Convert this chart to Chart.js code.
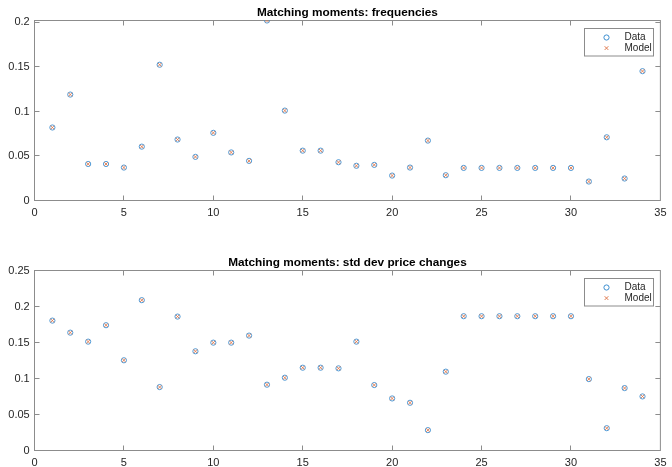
<!DOCTYPE html>
<html>
<head>
<meta charset="utf-8">
<script src="https://cdn.jsdelivr.net/npm/chart.js@4/dist/chart.umd.min.js"></script>
<style>
  html, body { margin: 0; padding: 0; background: #ffffff; }
  #wrap { position: relative; width: 672px; height: 467px; }
  .panel { position: absolute; left: 0; width: 672px; height: 217px; }
</style>
</head>
<body>
<div id="wrap">
  <div class="panel" style="top:0px"><canvas id="freqChart" width="672" height="217"></canvas></div>
  <div class="panel" style="top:250px"><canvas id="sdChart" width="672" height="217"></canvas></div>
</div>
<script>
// Moment index (1..34)
const moments = [1,2,3,4,5,6,7,8,9,10,11,12,13,14,15,16,17,18,19,20,21,22,23,24,25,26,27,28,29,30,31,32,33,34];

// Frequencies
const freqData  = [0.082,0.119,0.041,0.041,0.037,0.0605,0.1525,0.0685,0.049,0.076,0.054,0.0445,0.2022,0.101,0.056,0.056,0.043,0.039,0.040,0.028,0.037,0.0673,0.0284,0.0366,0.0366,0.0366,0.0366,0.0366,0.0366,0.0366,0.0213,0.071,0.0247,0.1453];
const freqModel = [0.082,0.119,0.041,0.041,0.037,0.0605,0.1525,0.0685,0.049,0.076,0.054,0.0445,0.2022,0.101,0.056,0.056,0.043,0.039,0.040,0.028,0.037,0.0673,0.0284,0.0366,0.0366,0.0366,0.0366,0.0366,0.0366,0.0366,0.0213,0.071,0.0247,0.1453];

// Standard deviation of price changes
const sdData  = [0.1804,0.1637,0.1512,0.174,0.1253,0.2088,0.0881,0.186,0.1378,0.1498,0.1498,0.1596,0.0914,0.1011,0.115,0.115,0.1141,0.1512,0.0909,0.0723,0.0663,0.0283,0.1095,0.1865,0.1865,0.1865,0.1865,0.1865,0.1865,0.1865,0.0992,0.031,0.0867,0.0751];
const sdModel = [0.1804,0.1637,0.1512,0.174,0.1253,0.2088,0.0881,0.186,0.1378,0.1498,0.1498,0.1596,0.0914,0.1011,0.115,0.115,0.1141,0.1512,0.0909,0.0723,0.0663,0.0283,0.1095,0.1865,0.1865,0.1865,0.1865,0.1865,0.1865,0.1865,0.0992,0.031,0.0867,0.0751];

// Tick labels
const xTicks    = [0,5,10,15,20,25,30,35];
const freqTicks = [0,0.05,0.1,0.15,0.2];
const sdTicks   = [0,0.05,0.1,0.15,0.2,0.25];

const BLUE = '#3d8fd1';
const ORANGE = '#e07a4f';
const AXIS_COLOR = '#8c8c8c';
const TEXT_COLOR = '#262626';
const FONT_FAMILY = '"Liberation Sans", Arial, Helvetica, sans-serif';

// Short numeric labels: 0, 0.05, 0.1, ...
const fmt = v => String(parseFloat(Number(v).toFixed(4)));

// Box frame with inward ticks on all four sides, plus title and legend
const boxAxes = {
  id: 'boxAxes',
  beforeDatasetsDraw(chart) {
    const { ctx, chartArea: a, scales } = chart;
    const TL = 5;
    ctx.save();
    ctx.strokeStyle = AXIS_COLOR;
    ctx.lineWidth = 1;
    ctx.strokeRect(a.left, a.top, a.right - a.left, a.bottom - a.top);
    ctx.beginPath();
    scales.x.ticks.forEach(t => {
      const px = Math.round(scales.x.getPixelForValue(t.value) - 0.5) + 0.5;
      if (px <= a.left + 1 || px >= a.right - 1) return;
      ctx.moveTo(px, a.bottom); ctx.lineTo(px, a.bottom - TL);
      ctx.moveTo(px, a.top);    ctx.lineTo(px, a.top + TL);
    });
    scales.y.ticks.forEach(t => {
      const py = Math.round(scales.y.getPixelForValue(t.value) - 0.5) + 0.5;
      if (py >= a.bottom - 1 || py <= a.top + 1) return;
      ctx.moveTo(a.left, py);  ctx.lineTo(a.left + TL, py);
      ctx.moveTo(a.right, py); ctx.lineTo(a.right - TL, py);
    });
    ctx.stroke();
    ctx.restore();
  },
  afterDraw(chart, args, opts) {
    const { ctx, chartArea: a } = chart;
    ctx.save();
    // title
    ctx.fillStyle = '#000000';
    ctx.font = 'bold 11.8px ' + FONT_FAMILY;
    ctx.textAlign = 'center';
    ctx.textBaseline = 'alphabetic';
    ctx.fillText(opts.title, (a.left + a.right) / 2, a.top - 5);

    // legend box in the upper-right corner
    const bx = 584.5, by = a.top + 8, bw = 69, bh = 27.5;
    ctx.fillStyle = '#ffffff';
    ctx.fillRect(bx, by, bw, bh);
    ctx.strokeStyle = AXIS_COLOR;
    ctx.lineWidth = 1;
    ctx.strokeRect(bx, by, bw, bh);
    ctx.font = '10px ' + FONT_FAMILY;
    ctx.textAlign = 'left';
    ctx.textBaseline = 'middle';
    chart.data.datasets.forEach((ds, i) => {
      const cy = by + 9 + i * 10.6;
      ctx.strokeStyle = ds.borderColor;
      ctx.fillStyle = 'rgba(0,0,0,0)';
      Chart.helpers.drawPoint(ctx, {
        pointStyle: ds.pointStyle,
        radius: ds.pointRadius,
        borderWidth: ds.borderWidth
      }, bx + 22, cy);
      ctx.fillStyle = TEXT_COLOR;
      ctx.fillText(ds.label, bx + 40, cy);
    });
    ctx.restore();
  }
};

function makePanel(canvasId, title, dataVals, modelVals, yMax, yTickVals) {
  const pts = vals => moments.map((m, i) => ({ x: m, y: vals[i] }));
  return new Chart(document.getElementById(canvasId), {
    type: 'scatter',
    data: {
      datasets: [
        {
          label: 'Data', data: pts(dataVals), order: 2,
          pointStyle: 'circle', pointRadius: 2.6, pointHoverRadius: 2.6,
          borderColor: BLUE, backgroundColor: 'rgba(0,0,0,0)', borderWidth: 0.9
        },
        {
          label: 'Model', data: pts(modelVals), order: 1,
          pointStyle: 'crossRot', pointRadius: 2.6, pointHoverRadius: 2.6,
          borderColor: ORANGE, backgroundColor: 'rgba(0,0,0,0)', borderWidth: 0.9
        }
      ]
    },
    options: {
      responsive: false,
      animation: false,
      devicePixelRatio: 1,
      events: [],
      layout: { padding: { top: 20.5, right: 7.5, left: 0, bottom: 0 } },
      plugins: {
        legend: { display: false },
        tooltip: { enabled: false },
        boxAxes: { title: title }
      },
      scales: {
        x: {
          type: 'linear', min: 0, max: 35,
          afterBuildTicks: s => { s.ticks = xTicks.map(v => ({ value: v })); },
          afterFit: s => { s.height = 16.5; },
          grid: { display: false, drawTicks: false },
          border: { display: false },
          ticks: { color: TEXT_COLOR, font: { family: FONT_FAMILY, size: 11 }, padding: 5.5, maxRotation: 0, callback: fmt }
        },
        y: {
          type: 'linear', min: 0, max: yMax,
          afterBuildTicks: s => { s.ticks = yTickVals.map(v => ({ value: v })); },
          afterFit: s => { s.width = 34.5; },
          grid: { display: false, drawTicks: false },
          border: { display: false },
          ticks: { color: TEXT_COLOR, font: { family: FONT_FAMILY, size: 11 }, padding: 4.8, callback: fmt }
        }
      }
    },
    plugins: [boxAxes]
  });
}

makePanel('freqChart', 'Matching moments: frequencies', freqData, freqModel, 0.2022, freqTicks);
makePanel('sdChart', 'Matching moments: std dev price changes', sdData, sdModel, 0.25, sdTicks);
</script>
</body>
</html>
